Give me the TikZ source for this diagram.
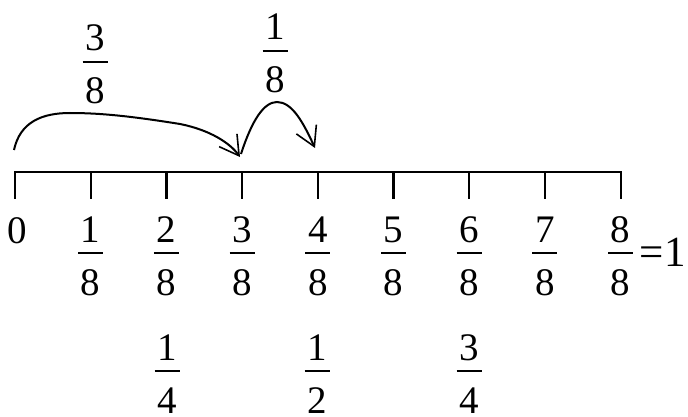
\documentclass[tikz,border=0pt]{standalone}
\usepackage{fontspec}
\setmainfont{Liberation Serif}
\usetikzlibrary{arrows.meta}
\tikzset{
  dig/.style={inner sep=0pt, font=\fontsize{39}{42}\selectfont},
  fracbar/.style={line width=2.8pt},
  axis/.style={line width=2.2pt, line cap=rect},
  jump/.style={line width=2pt, -{Straight Barb[length=19pt,width=22pt,line width=1.6pt]}}
}
\newcommand\myfrac[5]{%
  \node[dig, anchor=base] (#1n) at (#2, #3-11) {#4};
  \node[dig, anchor=base] (#1d) at (#2, #3+42) {#5};
  \draw[fracbar] (#2-12.5, #3) -- (#2+12.5, #3);
}
\begin{document}
\begin{tikzpicture}[x=1pt, y=-1pt]
\useasboundingbox (0,0) rectangle (688,417);
% axis
\foreach \k in {0,...,8} {
  \coordinate (t\k) at ({15+75.7*\k},172);
  \coordinate (b\k) at ({15+75.7*\k},198);
}
\draw[axis] (t0) -- (t8);
\foreach \k in {0,...,8} { \draw[axis] (t\k) -- (b\k); }
% labels
\node[dig, anchor=base] (l0) at (17,243) {0};
\myfrac{l1}{90.7}{253}{1}{8}
\myfrac{l2}{166.4}{253}{2}{8}
\myfrac{l3}{242.1}{253}{3}{8}
\myfrac{l4}{317.8}{253}{4}{8}
\myfrac{l5}{393.5}{253}{5}{8}
\myfrac{l6}{469.2}{253}{6}{8}
\myfrac{l7}{544.9}{253}{7}{8}
\myfrac{l8}{620.6}{253}{8}{8}
\node[dig, anchor=base west, font=\fontsize{43}{46}\selectfont] (eq) at (639,266) {=\kern1pt 1};
% equivalent fractions
\myfrac{q1}{167}{371}{1}{4}
\myfrac{q2}{317}{371}{1}{2}
\myfrac{q3}{469}{371}{3}{4}
% jump labels
\myfrac{j1}{95}{62}{3}{8}
\myfrac{j2}{275}{51}{1}{8}
% jumps
\coordinate (s1) at (14,150);
\coordinate (e1) at (240,157);
\coordinate (s2) at (241,154);
\coordinate (e2) at (315,148);
\draw[jump] (s1) .. controls (20,122) and (42,113) .. (70,113)
  .. controls (100,113) and (130,116) .. (180,124)
  .. controls (210,130) and (230,143) .. (e1);
\draw[jump] (s2) .. controls (252,120) and (264,102) .. (277,102)
  .. controls (292,102) and (303,122) .. (e2);
\end{tikzpicture}
\end{document}
